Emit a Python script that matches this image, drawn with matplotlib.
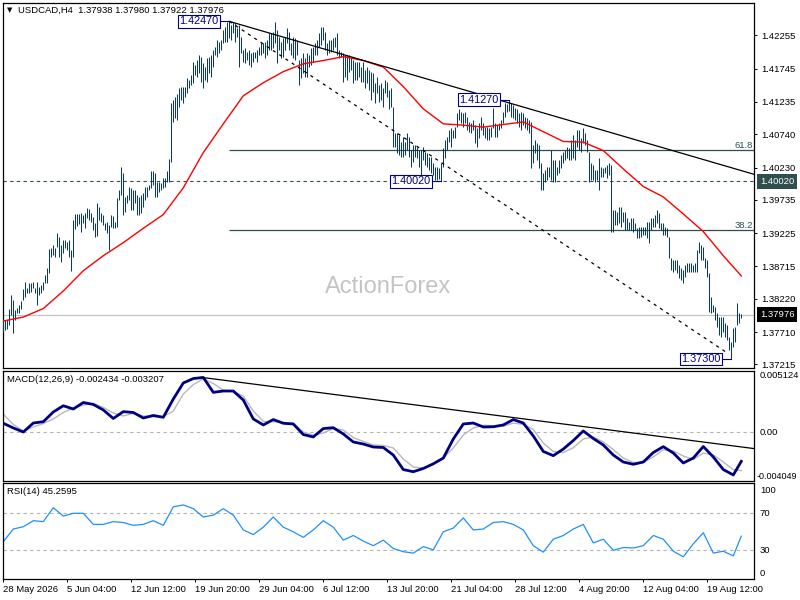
import numpy as np
import matplotlib
matplotlib.use("Agg")
import matplotlib.pyplot as plt
from matplotlib.transforms import blended_transform_factory

plt.rcParams['font.family'] = ['Liberation Sans', 'DejaVu Sans']

# ---------------- data ----------------
symbol_header = "USDCAD,H4  1.37938 1.37980 1.37922 1.37976"
macd_header = "MACD(12,26,9) -0.002434 -0.003207"
rsi_header = "RSI(14) 45.2595"

highs = [
    1.3791, 1.3790, 1.3790, 1.3807, 1.3828, 1.3820, 1.3805, 1.3808, 1.3813, 1.3819,
    1.3837, 1.3848, 1.3839, 1.3846, 1.3846, 1.3848, 1.3839, 1.3848, 1.3840, 1.3843,
    1.3848, 1.3859, 1.3869, 1.3899, 1.3900, 1.3905, 1.3900, 1.3923, 1.3917, 1.3905,
    1.3912, 1.3912, 1.3909, 1.3912, 1.3897, 1.3943, 1.3952, 1.3952, 1.3952, 1.3954,
    1.3951, 1.3954, 1.3961, 1.3960, 1.3954, 1.3948, 1.3938, 1.3969, 1.3963, 1.3954,
    1.3951, 1.3938, 1.3940, 1.3935, 1.3951, 1.3949, 1.3940, 1.3977, 1.3989, 1.4024,
    1.4015, 1.3978, 1.3981, 1.3994, 1.3992, 1.3989, 1.3989, 1.3981, 1.3978, 1.3981,
    1.3984, 1.3994, 1.3994, 1.3997, 1.4018, 1.4018, 1.4015, 1.4001, 1.4001, 1.4000,
    1.4007, 1.4007, 1.4017, 1.4036, 1.4122, 1.4127, 1.4131, 1.4136, 1.4145, 1.4147,
    1.4147, 1.4147, 1.4160, 1.4157, 1.4165, 1.4185, 1.4180, 1.4188, 1.4196, 1.4193,
    1.4183, 1.4177, 1.4191, 1.4193, 1.4196, 1.4203, 1.4208, 1.4219, 1.4216, 1.4219,
    1.4234, 1.4239, 1.4246, 1.4247, 1.4242, 1.4246, 1.4245, 1.4237, 1.4242, 1.4223,
    1.4203, 1.4206, 1.4200, 1.4203, 1.4199, 1.4200, 1.4200, 1.4203, 1.4208, 1.4214,
    1.4214, 1.4216, 1.4219, 1.4229, 1.4229, 1.4231, 1.4246, 1.4234, 1.4223, 1.4216,
    1.4222, 1.4223, 1.4237, 1.4231, 1.4214, 1.4223, 1.4222, 1.4219, 1.4188, 1.4191,
    1.4199, 1.4191, 1.4199, 1.4196, 1.4206, 1.4208, 1.4214, 1.4219, 1.4229, 1.4239,
    1.4239, 1.4231, 1.4214, 1.4219, 1.4219, 1.4222, 1.4223, 1.4229, 1.4203, 1.4200,
    1.4199, 1.4196, 1.4196, 1.4196, 1.4191, 1.4188, 1.4185, 1.4185, 1.4185, 1.4177,
    1.4185, 1.4173, 1.4177, 1.4173, 1.4170, 1.4168, 1.4153, 1.4162, 1.4150, 1.4153,
    1.4145, 1.4157, 1.4154, 1.4142, 1.4145, 1.4116, 1.4076, 1.4076, 1.4073, 1.4062,
    1.4070, 1.4062, 1.4076, 1.4070, 1.4050, 1.4058, 1.4058, 1.4055, 1.4050, 1.4050,
    1.4055, 1.4047, 1.4046, 1.4039, 1.4039, 1.4030, 1.4024, 1.4024, 1.4023, 1.4030,
    1.4053, 1.4066, 1.4070, 1.4081, 1.4084, 1.4081, 1.4085, 1.4107, 1.4112, 1.4108,
    1.4107, 1.4108, 1.4101, 1.4093, 1.4092, 1.4096, 1.4089, 1.4084, 1.4092, 1.4101,
    1.4092, 1.4085, 1.4085, 1.4084, 1.4085, 1.4115, 1.4092, 1.4089, 1.4092, 1.4096,
    1.4108, 1.4122, 1.4120, 1.4127, 1.4122, 1.4119, 1.4115, 1.4112, 1.4107, 1.4108,
    1.4107, 1.4101, 1.4099, 1.4096, 1.4093, 1.4058, 1.4066, 1.4061, 1.4058, 1.4030,
    1.4015, 1.4020, 1.4024, 1.4024, 1.4050, 1.4035, 1.4035, 1.4024, 1.4035, 1.4043,
    1.4047, 1.4050, 1.4055, 1.4053, 1.4066, 1.4073, 1.4066, 1.4081, 1.4081, 1.4069,
    1.4084, 1.4076, 1.4066, 1.4047, 1.4030, 1.4027, 1.4020, 1.4020, 1.4038, 1.4024,
    1.4023, 1.4024, 1.4027, 1.4030, 1.4027, 1.3958, 1.3958, 1.3955, 1.3963, 1.3963,
    1.3955, 1.3955, 1.3946, 1.3940, 1.3946, 1.3946, 1.3938, 1.3931, 1.3932, 1.3932,
    1.3932, 1.3932, 1.3940, 1.3940, 1.3946, 1.3946, 1.3951, 1.3958, 1.3954, 1.3938,
    1.3938, 1.3932, 1.3931, 1.3917, 1.3885, 1.3882, 1.3882, 1.3882, 1.3874, 1.3869,
    1.3866, 1.3874, 1.3877, 1.3877, 1.3877, 1.3874, 1.3877, 1.3897, 1.3909, 1.3905,
    1.3902, 1.3885, 1.3882, 1.3862, 1.3825, 1.3813, 1.3810, 1.3800, 1.3794, 1.3794,
    1.3794, 1.3785, 1.3782, 1.3764, 1.3756, 1.3778, 1.3779, 1.3816, 1.3800, 1.3798,
]

lows = [
    1.3771, 1.3774, 1.3776, 1.3782, 1.3797, 1.3770, 1.3790, 1.3800, 1.3800, 1.3807,
    1.3820, 1.3825, 1.3831, 1.3831, 1.3833, 1.3839, 1.3831, 1.3813, 1.3828, 1.3831,
    1.3836, 1.3846, 1.3846, 1.3862, 1.3886, 1.3889, 1.3886, 1.3902, 1.3886, 1.3879,
    1.3892, 1.3900, 1.3897, 1.3886, 1.3865, 1.3886, 1.3929, 1.3934, 1.3937, 1.3925,
    1.3938, 1.3931, 1.3946, 1.3943, 1.3940, 1.3928, 1.3917, 1.3918, 1.3943, 1.3940,
    1.3935, 1.3928, 1.3923, 1.3897, 1.3932, 1.3931, 1.3931, 1.3932, 1.3974, 1.3981,
    1.3951, 1.3955, 1.3969, 1.3974, 1.3958, 1.3958, 1.3969, 1.3951, 1.3951, 1.3954,
    1.3963, 1.3974, 1.3978, 1.3989, 1.3992, 1.3997, 1.3978, 1.3978, 1.3986, 1.3989,
    1.3992, 1.3994, 1.4001, 1.4001, 1.4032, 1.4093, 1.4099, 1.4096, 1.4116, 1.4127,
    1.4122, 1.4131, 1.4138, 1.4145, 1.4150, 1.4153, 1.4165, 1.4162, 1.4168, 1.4154,
    1.4145, 1.4157, 1.4154, 1.4168, 1.4162, 1.4177, 1.4196, 1.4193, 1.4199, 1.4203,
    1.4214, 1.4216, 1.4216, 1.4222, 1.4219, 1.4229, 1.4216, 1.4223, 1.4177, 1.4199,
    1.4185, 1.4183, 1.4188, 1.4180, 1.4177, 1.4185, 1.4191, 1.4185, 1.4196, 1.4196,
    1.4199, 1.4191, 1.4196, 1.4203, 1.4203, 1.4206, 1.4214, 1.4183, 1.4203, 1.4191,
    1.4193, 1.4203, 1.4214, 1.4203, 1.4196, 1.4191, 1.4188, 1.4196, 1.4150, 1.4160,
    1.4168, 1.4162, 1.4162, 1.4177, 1.4180, 1.4185, 1.4196, 1.4196, 1.4208, 1.4211,
    1.4219, 1.4203, 1.4196, 1.4199, 1.4200, 1.4203, 1.4208, 1.4196, 1.4191, 1.4193,
    1.4154, 1.4162, 1.4157, 1.4170, 1.4173, 1.4153, 1.4157, 1.4157, 1.4162, 1.4154,
    1.4154, 1.4145, 1.4153, 1.4142, 1.4127, 1.4139, 1.4122, 1.4138, 1.4124, 1.4127,
    1.4116, 1.4138, 1.4131, 1.4112, 1.4116, 1.4055, 1.4055, 1.4046, 1.4043, 1.4039,
    1.4039, 1.4043, 1.4050, 1.4039, 1.4024, 1.4032, 1.4039, 1.4038, 1.4024, 1.4012,
    1.4035, 1.4027, 1.4024, 1.4020, 1.4015, 1.4012, 1.4004, 1.4004, 1.4006, 1.4002,
    1.4024, 1.4038, 1.4050, 1.4062, 1.4055, 1.4069, 1.4069, 1.4085, 1.4096, 1.4092,
    1.4085, 1.4092, 1.4081, 1.4078, 1.4076, 1.4081, 1.4061, 1.4055, 1.4069, 1.4081,
    1.4073, 1.4069, 1.4066, 1.4066, 1.4070, 1.4084, 1.4070, 1.4070, 1.4081, 1.4084,
    1.4092, 1.4101, 1.4108, 1.4110, 1.4101, 1.4099, 1.4096, 1.4092, 1.4085, 1.4081,
    1.4089, 1.4084, 1.4081, 1.4076, 1.4023, 1.4030, 1.4046, 1.4035, 1.4023, 1.3989,
    1.3989, 1.4001, 1.4004, 1.4009, 1.4004, 1.4001, 1.4001, 1.4012, 1.4015, 1.4023,
    1.4030, 1.4035, 1.4038, 1.4035, 1.4035, 1.4038, 1.4035, 1.4055, 1.4050, 1.4047,
    1.4061, 1.4058, 1.4047, 1.4001, 1.4004, 1.4004, 1.4001, 1.4004, 1.3989, 1.4009,
    1.4009, 1.4015, 1.4007, 1.4012, 1.3925, 1.3925, 1.3935, 1.3935, 1.3938, 1.3932,
    1.3940, 1.3928, 1.3928, 1.3928, 1.3928, 1.3925, 1.3928, 1.3915, 1.3915, 1.3917,
    1.3920, 1.3920, 1.3915, 1.3908, 1.3928, 1.3932, 1.3932, 1.3938, 1.3931, 1.3928,
    1.3920, 1.3920, 1.3917, 1.3885, 1.3866, 1.3863, 1.3866, 1.3862, 1.3854, 1.3851,
    1.3846, 1.3856, 1.3863, 1.3863, 1.3863, 1.3863, 1.3863, 1.3863, 1.3892, 1.3882,
    1.3882, 1.3869, 1.3856, 1.3802, 1.3800, 1.3802, 1.3790, 1.3779, 1.3767, 1.3764,
    1.3771, 1.3764, 1.3759, 1.3744, 1.3730, 1.3748, 1.3756, 1.3782, 1.3785, 1.3792,
]

# moving average read every 10 bars (+ last bar)
ma_step = 10
ma_values = [
    1.3788, 1.3794, 1.3807, 1.3834, 1.3865, 1.3888, 1.3908, 1.3930, 1.3951, 1.3992,
    1.4046, 1.4090, 1.4133, 1.4153, 1.4170, 1.4182, 1.4187, 1.4193, 1.4187, 1.4177,
    1.4147, 1.4113, 1.4090, 1.4088, 1.4085, 1.4089, 1.4093, 1.4078, 1.4063, 1.4062,
    1.4049, 1.4021, 1.3994, 1.3978, 1.3952, 1.3925, 1.3888, 1.3857,
]

# indicator values read every 5 bars (+ last bar)
ind_step = 5
macd_main = [
    0.00074, 0.00035, 0.00001, 0.00076, 0.00087, 0.00168, 0.00220, 0.00193, 0.00247, 0.00231,
    0.00185, 0.00114, 0.00171, 0.00164, 0.00118, 0.00139, 0.00124, 0.00276, 0.00410, 0.00447,
    0.00456, 0.00332, 0.00343, 0.00343, 0.00268, 0.00110, 0.00060, 0.00105, 0.00074, 0.00068,
    -0.00020, -0.00040, 0.00030, 0.00037, -0.00015, -0.00082, -0.00099, -0.00124, -0.00128, -0.00191,
    -0.00312, -0.00330, -0.00303, -0.00264, -0.00216, -0.00057, 0.00068, 0.00076, 0.00043, 0.00045,
    0.00060, 0.00105, 0.00076, -0.00032, -0.00161, -0.00196, -0.00141, -0.00070, 0.00010, -0.00053,
    -0.00107, -0.00191, -0.00249, -0.00268, -0.00249, -0.00170, -0.00121, -0.00174, -0.00257, -0.00216,
    -0.00120, -0.00207, -0.00312, -0.00357, -0.002434,
]
macd_signal = [
    0.00149, 0.00064, 0.00010, 0.00043, 0.00072, 0.00110, 0.00164, 0.00201, 0.00226, 0.00239,
    0.00206, 0.00160, 0.00135, 0.00156, 0.00135, 0.00129, 0.00129, 0.00176, 0.00318, 0.00397,
    0.00443, 0.00406, 0.00351, 0.00339, 0.00301, 0.00176, 0.00089, 0.00087, 0.00082, 0.00074,
    0.00001, -0.00024, -0.00007, 0.00030, 0.00018, -0.00045, -0.00078, -0.00107, -0.00111, -0.00132,
    -0.00224, -0.00291, -0.00299, -0.00264, -0.00216, -0.00132, -0.00024, 0.00035, 0.00057, 0.00053,
    0.00049, 0.00076, 0.00064, 0.00022, -0.00091, -0.00161, -0.00170, -0.00130, -0.00057, -0.00040,
    -0.00082, -0.00145, -0.00216, -0.00253, -0.00253, -0.00207, -0.00147, -0.00157, -0.00199, -0.00228,
    -0.00174, -0.00191, -0.00249, -0.00312, -0.003207,
]
rsi_values = [
    39.3, 53, 55.5, 62, 61, 76, 67, 70, 70, 58,
    58, 61, 60, 57, 58, 62, 57, 77, 79, 75,
    66, 68, 75, 68, 52, 47, 55, 66, 55, 50,
    44, 52, 62, 55, 41, 46, 40, 35, 41, 32,
    28.5, 27, 34, 30.5, 50, 54, 65, 52, 53, 60,
    61, 58, 52, 35, 28, 42, 46, 53, 58, 38,
    42, 30, 33, 32.5, 35, 46, 42, 29, 23, 37,
    49, 27, 29, 24, 45.2595,
]

date_labels = ["28 May 2026", "5 Jun 04:00", "12 Jun 12:00", "19 Jun 20:00",
               "29 Jun 04:00", "6 Jul 12:00", "13 Jul 20:00", "21 Jul 04:00",
               "28 Jul 12:00", "4 Aug 20:00", "12 Aug 04:00", "19 Aug 12:00"]
date_label_step = 32

price_ticks = [1.42255, 1.41745, 1.41235, 1.40740, 1.40230, 1.39735,
               1.39225, 1.38715, 1.38220, 1.37710, 1.37215]

peak_idx, peak_price = 113, 1.42470
low_idx, low_price = 364, 1.37300
high2_idx, high2_price = 253, 1.41270
low2_idx, low2_price = 219, 1.40020
last_price = 1.37976
fib_levels = [0.382, 0.618]
trend_anchor = (300, 1.4080)
dash_end = (362, 1.3739)
macd_trend = [(99, 0.00457), (300, 0.00025)]
macd_top, macd_bottom = 0.005124, -0.004049
main_ylim = (1.37155, 1.42756)
rsi_ylim = (-1.0, 102.4)
rsi_levels = [70, 30]
rsi_tick_vals = [100, 70, 30, 0]

# ---------------- styling ----------------
BAR = '#0F3A58'
NAVY = '#000080'
FIB = '#2F4F4F'
FS = 6.8

n = len(highs)
bars = np.arange(n)
ma_idx = np.r_[np.arange(0, n - 1, ma_step), n - 1]
ind_idx = np.r_[np.arange(0, n - 1, ind_step), n - 1]

fig = plt.figure(figsize=(8, 6), dpi=100)
fig.patch.set_facecolor('white')


def rect(x0, y0, x1, y1):
    return [x0 / 800, 1 - y1 / 600, (x1 - x0) / 800, (y1 - y0) / 600]


ax = fig.add_axes(rect(2.7, 2.7, 754.3, 368.3))
axm = fig.add_axes(rect(2.7, 370.7, 754.3, 480.7))
axr = fig.add_axes(rect(2.7, 483.3, 754.3, 579.0))

xlim = (-0.3, -0.3 + (754.3 - 2.7) / 2)
for a in (ax, axm, axr):
    a.set_xlim(*xlim)
    for s in a.spines.values():
        s.set_linewidth(0.9)
        s.set_color('black')
    a.tick_params(axis='x', which='both', bottom=False, labelbottom=False)
    a.yaxis.tick_right()

# ---------------- main panel ----------------
ax.set_ylim(*main_ylim)
ax.text(0.5126, 0.222, 'ActionForex', transform=ax.transAxes, ha='center', va='center',
        fontsize=17, color='#C4C4C4', zorder=0)

ax.axhline(last_price, color='#C0C0C0', lw=0.8, zorder=1)
ax.axhline(low2_price, color=FIB, lw=0.8, ls=(0, (3, 3)), zorder=1)

rng = peak_price - low_price
for lev in fib_levels:
    lv = low_price + lev * rng
    ax.hlines(lv, peak_idx, xlim[1], color=FIB, lw=0.9, zorder=1)
    ax.text(xlim[1] - 0.8, lv + 0.00004, f"{lev*100:.1f}", ha='right', va='bottom',
            fontsize=FS, color=FIB)

ax.vlines(bars, lows, highs, color=BAR, lw=0.75, antialiased=True, snap=True, zorder=3)
ax.plot(ma_idx, ma_values, color='#FF0000', lw=1.0, zorder=4)

slope = (trend_anchor[1] - peak_price) / (trend_anchor[0] - peak_idx)
ax.plot([peak_idx, xlim[1]], [peak_price, peak_price + slope * (xlim[1] - peak_idx)],
        color='black', lw=0.9, zorder=5)
ax.plot([peak_idx, dash_end[0]], [peak_price, dash_end[1]], color='black', lw=0.9,
        ls=(0, (2.5, 3.5)), zorder=5)


def price_label(idx, price, text):
    ax.plot([idx - 5, idx], [price, price], color=NAVY, lw=0.8, zorder=6)
    ax.text(idx - 5.4, price, text, ha='right', va='center', fontsize=7.8, color=NAVY,
            zorder=7, bbox=dict(boxstyle='square,pad=0.12', fc='white', ec=NAVY, lw=0.8))


price_label(peak_idx, peak_price, f"{peak_price:.5f}")
price_label(high2_idx, high2_price, f"{high2_price:.5f}")
price_label(low2_idx, low2_price, f"{low2_price:.5f}")
price_label(low_idx, low_price, f"{low_price:.5f}")

ax.set_yticks(price_ticks)
ax.set_yticklabels([f"{v:.5f}" for v in price_ticks])
ax.tick_params(axis='y', labelsize=FS, length=2.5, width=0.7, pad=2.5, right=True, left=False)

bt = blended_transform_factory(ax.transAxes, ax.transData)
ax.text(1.0 + 5.5 / 751.6, low2_price, f"{low2_price:.5f}", transform=bt, ha='left',
        va='center', fontsize=FS, color='white', clip_on=False,
        bbox=dict(boxstyle='square,pad=0.3', fc='#2F4F4F', ec='none'))
ax.text(1.0 + 5.5 / 751.6, last_price, f"{last_price:.5f}", transform=bt, ha='left',
        va='center', fontsize=FS, color='white', clip_on=False,
        bbox=dict(boxstyle='square,pad=0.3', fc='black', ec='none'))

fig.text(9.5 / 800, 1 - 10.5 / 600, '\u25BC', fontsize=5, ha='center', va='center',
         family=['DejaVu Sans'])
fig.text(18 / 800, 1 - 10 / 600, symbol_header, fontsize=FS, ha='left', va='center')

# ---------------- MACD panel ----------------
axm.set_ylim(macd_bottom, macd_top)
axm.axhline(0, color='#B4B4B4', lw=0.8, ls=(0, (3, 3)))
axm.plot(ind_idx, macd_signal, color='#B8B8B8', lw=1.0)
axm.plot(ind_idx, macd_main, color=NAVY, lw=2.0)
mslope = (macd_trend[1][1] - macd_trend[0][1]) / (macd_trend[1][0] - macd_trend[0][0])
axm.plot([macd_trend[0][0], xlim[1]],
         [macd_trend[0][1], macd_trend[0][1] + mslope * (xlim[1] - macd_trend[0][0])],
         color='black', lw=0.9)
axm.set_yticks([])
mt = blended_transform_factory(axm.transAxes, axm.transData)
axm.text(1.0 + 5.5 / 751.6, macd_top, f"{macd_top:.6f}", transform=mt, ha='left', va='top',
         fontsize=FS, clip_on=False)
axm.text(1.0 + 5.5 / 751.6, 0.0, "0.00", transform=mt, ha='left', va='center',
         fontsize=FS, clip_on=False)
axm.text(1.0 + 2.0 / 751.6, macd_bottom, f"{macd_bottom:.6f}", transform=mt, ha='left',
         va='bottom', fontsize=6.5, clip_on=False)
axm.text(4.5 / 751.6, 1 - 8.5 / 110, macd_header, transform=axm.transAxes, ha='left',
         va='center', fontsize=FS)

# ---------------- RSI panel ----------------
axr.set_ylim(*rsi_ylim)
for lv in rsi_levels:
    axr.axhline(lv, color='#B4B4B4', lw=0.8, ls=(0, (3, 3)))
axr.plot(ind_idx, rsi_values, color='#1E90FF', lw=0.9)
axr.set_yticks([])
rt = blended_transform_factory(axr.transAxes, axr.transData)
for v in rsi_tick_vals:
    va = 'top' if v == 100 else ('bottom' if v == 0 else 'center')
    axr.text(1.0 + 5.5 / 751.6, v, str(v), transform=rt, ha='left', va=va,
             fontsize=FS, clip_on=False)
axr.text(4.5 / 751.6, 1 - 8.5 / 95.7, rsi_header, transform=axr.transAxes, ha='left',
         va='center', fontsize=FS)

tick_pos = np.arange(len(date_labels)) * date_label_step
axr.set_xticks(tick_pos)
axr.set_xticklabels(date_labels)
axr.tick_params(axis='x', bottom=True, labelbottom=True, labelsize=FS, length=2.5,
                width=0.7, pad=1.5)
for lbl in axr.get_xticklabels():
    lbl.set_horizontalalignment('left')

fig.savefig('out.png', dpi=100, facecolor='white')
